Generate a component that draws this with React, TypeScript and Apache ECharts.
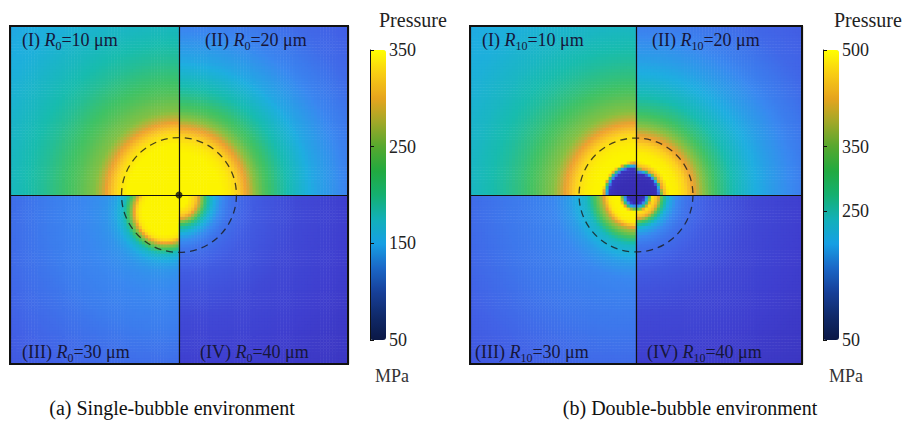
import React, { useEffect, useRef } from 'react';
import * as echarts from 'echarts';

// ---------- data ----------
// radial distance from a quadrant's field centre, as a fraction of the half-width of a panel
const RADII = [0, 0.05, 0.1, 0.13, 0.16, 0.2, 0.25, 0.3, 0.35, 0.4, 0.45, 0.5, 0.6, 0.7, 0.8, 1.0, 1.2, 1.5];

// pressure (MPa) along RADII, single-bubble environment, quadrants I..IV
const SINGLE_I = [350, 350, 350, 350, 350, 350, 350, 350, 335, 308, 278, 256, 238, 224, 210, 190, 174, 161];
const SINGLE_II = [350, 350, 350, 350, 350, 350, 350, 341, 320, 290, 260, 238, 210, 186, 164, 136, 117, 102];
const SINGLE_III = [350, 350, 350, 350, 338, 258, 188, 162, 150, 145, 142, 139, 135, 131, 125, 115, 105, 95];
const SINGLE_IV = [350, 350, 314, 266, 218, 176, 143, 125, 116, 110, 104, 101, 95, 89, 86, 80, 74, 68];
// field centres (fractions of half-width; x right, y up)
const SINGLE_CENTRES = [[0, 0], [0, 0], [-0.08, -0.1], [0, -0.02]];

// pressure (MPa) along RADII, double-bubble environment, quadrants I..IV
const DOUBLE_I = [64, 64, 64, 68, 77, 500, 500, 491, 469, 430, 390, 360, 330, 305, 285, 256, 236, 221];
const DOUBLE_II = [64, 64, 64, 68, 410, 500, 491, 455, 410, 368, 334, 308, 268, 236, 212, 174, 147, 128];
const DOUBLE_III = [64, 64, 500, 500, 487, 387, 320, 255, 234, 210, 196, 184, 176, 170, 165, 151, 137, 122];
const DOUBLE_IV = [64, 64, 477, 432, 320, 230, 185, 162, 149, 140, 131, 126, 117, 108, 104, 95, 86, 77];
const DOUBLE_CENTRES = [[0, 0], [0, 0], [0, 0], [0, 0]];

const SINGLE_RANGE = [50, 350];
const DOUBLE_RANGE = [50, 500];
const SINGLE_TICKS = [50, 150, 250, 350];
const DOUBLE_TICKS = [50, 250, 350, 500];

const DASH_RADIUS = 0.34; // dashed circle radius, fraction of half-width

const SINGLE_LABELS = [
  ['I', '0', '10'],
  ['II', '0', '20'],
  ['III', '0', '30'],
  ['IV', '0', '40'],
];
const DOUBLE_LABELS = [
  ['I', '10', '10'],
  ['II', '10', '20'],
  ['III', '10', '30'],
  ['IV', '10', '40'],
];
const CAPTIONS = ['(a) Single-bubble environment', '(b) Double-bubble environment'];

// ---------- styles ----------
const SERIF = '"Liberation Serif", "DejaVu Serif", serif';
const MAP_COLORS = ['#3527a8', '#3f3fcf', '#4262e6', '#3a88f0', '#1eaee0', '#18bcae', '#40c264', '#8cc040', '#eea030', '#fcd020', '#fcf400'];
const BAR_COLORS = ['#0b1846', '#102a6a', '#17409a', '#1a68c8', '#16a0e4', '#12b0b8', '#14b070', '#22aa40', '#56a82e', '#a0a828', '#e6a41e', '#f8cc14', '#ffff00'];
const GRID_N = 110;

const PANELS = [
  { left: 10, top: 26, width: 338, height: 338, barLeft: 370, captionX: 172, pressureX: 379, mpaX: 375, labelDx: [12, 26, 12, 21] },
  { left: 470, top: 26, width: 332, height: 338, barLeft: 823, captionX: 690, pressureX: 834, mpaX: 829, labelDx: [12, 16, 5, 11] },
];
const BAR_TOP = 50;
const BAR_H = 290;
const BAR_W = 16;

function profileAt(profile: number[], r: number): number {
  if (r <= RADII[0]) return profile[0];
  for (let k = 1; k < RADII.length; k++) {
    if (r <= RADII[k]) {
      const f = (r - RADII[k - 1]) / (RADII[k] - RADII[k - 1]);
      return profile[k - 1] + f * (profile[k] - profile[k - 1]);
    }
  }
  return profile[profile.length - 1];
}

function buildField(profiles: number[][], centres: number[][]) {
  const out: number[][] = [];
  for (let j = 0; j < GRID_N; j++) {
    const y = -1 + ((j + 0.5) * 2) / GRID_N;
    for (let i = 0; i < GRID_N; i++) {
      const x = -1 + ((i + 0.5) * 2) / GRID_N;
      const q = y >= 0 ? (x < 0 ? 0 : 1) : x < 0 ? 2 : 3;
      const dx = x - centres[q][0];
      const dy = y - centres[q][1];
      out.push([i, j, profileAt(profiles[q], Math.sqrt(dx * dx + dy * dy))]);
    }
  }
  return out;
}

function labelText(l: string[]) {
  return `{n|(${l[0]}) }{i|R}{s|${l[1]}}{n|=${l[2]} μm}`;
}

const LABEL_COLOR = '#16163a';
const LABEL_SIZE = 18;
const rich = {
  n: { fontFamily: SERIF, fontSize: LABEL_SIZE, fill: LABEL_COLOR, lineHeight: 23, verticalAlign: 'middle' },
  i: { fontFamily: SERIF, fontSize: LABEL_SIZE, fontStyle: 'italic', fill: LABEL_COLOR, lineHeight: 23, verticalAlign: 'middle' },
  s: { fontFamily: SERIF, fontSize: 12, fill: LABEL_COLOR, lineHeight: 23, verticalAlign: 'bottom' },
};

function buildOption() {
  const idx = Array.from({ length: GRID_N }, (_, k) => String(k));
  const fields = [
    buildField([SINGLE_I, SINGLE_II, SINGLE_III, SINGLE_IV], SINGLE_CENTRES),
    buildField([DOUBLE_I, DOUBLE_II, DOUBLE_III, DOUBLE_IV], DOUBLE_CENTRES),
  ];
  const ranges = [SINGLE_RANGE, DOUBLE_RANGE];
  const ticks = [SINGLE_TICKS, DOUBLE_TICKS];
  const labels = [SINGLE_LABELS, DOUBLE_LABELS];

  const grid: any[] = [];
  const xAxis: any[] = [];
  const yAxis: any[] = [];
  const series: any[] = [];
  const visualMap: any[] = [];
  const graphic: any[] = [];

  PANELS.forEach((p) => {
    grid.push({ left: p.left, top: p.top, width: p.width, height: p.height, containLabel: false });
  });
  PANELS.forEach((p) => {
    grid.push({ left: p.barLeft, top: BAR_TOP, width: BAR_W, height: BAR_H, containLabel: false });
  });

  // category axes for heatmaps (0,1)
  [0, 1].forEach((g) => {
    xAxis.push({ gridIndex: g, type: 'category', data: idx, show: false });
    yAxis.push({ gridIndex: g, type: 'category', data: idx, show: false });
  });
  // overlay value axes (2,3) – quadrant dividers
  [0, 1].forEach((g) => {
    const ax = {
      gridIndex: g,
      type: 'value',
      min: -1,
      max: 1,
      interval: 1,
      z: 5,
      axisLine: { show: false },
      axisTick: { show: false },
      axisLabel: { show: false },
      splitLine: { show: true, lineStyle: { color: '#111', width: 1.2 } },
    };
    xAxis.push({ ...ax });
    yAxis.push({ ...ax });
  });
  // colour-bar axes (4,5)
  [0, 1].forEach((k) => {
    xAxis.push({ gridIndex: 2 + k, type: 'value', min: 0, max: 1, show: false });
    yAxis.push({
      gridIndex: 2 + k,
      type: 'value',
      position: 'right',
      min: ranges[k][0],
      max: ranges[k][1],
      z: 5,
      axisLine: { show: true, lineStyle: { color: '#111', width: 1 } },
      axisTick: { show: true, inside: false, length: 4, lineStyle: { color: '#111' }, customValues: ticks[k] },
      axisLabel: { show: true, fontFamily: SERIF, fontSize: 18, color: '#222', margin: 3, customValues: ticks[k] },
      splitLine: { show: false },
    });
  });

  [0, 1].forEach((k) => {
    series.push({
      type: 'heatmap',
      xAxisIndex: k,
      yAxisIndex: k,
      data: fields[k],
      progressive: 0,
      silent: true,
      emphasis: { disabled: true },
    });
    visualMap.push({
      type: 'continuous',
      show: false,
      seriesIndex: k,
      min: ranges[k][0],
      max: ranges[k][1],
      inRange: { color: MAP_COLORS },
    });
  });
  [0, 1].forEach((k) => {
    series.push({ type: 'scatter', xAxisIndex: 4 + k, yAxisIndex: 4 + k, data: [], silent: true });
  });
  [0, 1].forEach((k) => {
    visualMap.push({
      type: 'continuous',
      show: true,
      seriesIndex: 2 + k,
      min: ranges[k][0],
      max: ranges[k][1],
      left: PANELS[k].barLeft,
      top: BAR_TOP,
      itemWidth: BAR_W,
      itemHeight: BAR_H,
      padding: 0,
      calculable: false,
      hoverLink: false,
      text: ['', ''],
      inRange: { color: BAR_COLORS },
    });
  });

  // dashed circles and centre dot
  PANELS.forEach((p, k) => {
    series.push({
      type: 'scatter',
      xAxisIndex: 2 + k,
      yAxisIndex: 2 + k,
      data: [[0, 0]],
      symbol: 'circle',
      symbolSize: (DASH_RADIUS * (p.width + p.height)) / 2,
      silent: true,
      z: 6,
      itemStyle: { color: 'rgba(0,0,0,0)', borderColor: '#1a1a1a', borderWidth: 1.3, borderType: [7, 5] },
    });
    if (k === 0) {
      series.push({
        type: 'scatter',
        xAxisIndex: 2,
        yAxisIndex: 2,
        data: [[0, 0]],
        symbol: 'circle',
        symbolSize: 7,
        silent: true,
        z: 7,
        itemStyle: { color: '#111' },
      });
    }
  });

  PANELS.forEach((p, k) => {
    graphic.push({
      type: 'rect',
      z: 100,
      silent: true,
      shape: { x: p.left, y: p.top, width: p.width, height: p.height },
      style: { fill: 'none', stroke: '#111', lineWidth: 2 },
    });
    const cx = p.left + p.width / 2;
    const pos = [
      [p.left + p.labelDx[0], p.top + 14],
      [cx + p.labelDx[1], p.top + 14],
      [p.left + p.labelDx[2], p.top + p.height - 12],
      [cx + p.labelDx[3], p.top + p.height - 12],
    ];
    labels[k].forEach((l, q) => {
      graphic.push({
        type: 'text',
        z: 101,
        silent: true,
        x: pos[q][0],
        y: pos[q][1],
        style: { text: labelText(l), rich, fontFamily: SERIF, fontSize: LABEL_SIZE, fill: LABEL_COLOR, verticalAlign: 'middle', align: 'left' },
      });
    });
    graphic.push({
      type: 'text',
      z: 101,
      silent: true,
      x: p.pressureX,
      y: 20,
      style: { text: 'Pressure', fontFamily: SERIF, fontSize: 20, fill: '#222', verticalAlign: 'middle', align: 'left' },
    });
    graphic.push({
      type: 'text',
      z: 101,
      silent: true,
      x: p.mpaX,
      y: 376,
      style: { text: 'MPa', fontFamily: SERIF, fontSize: 18, fill: '#333', verticalAlign: 'middle', align: 'left' },
    });
    graphic.push({
      type: 'text',
      z: 101,
      silent: true,
      x: p.captionX,
      y: 408,
      style: { text: CAPTIONS[k], fontFamily: SERIF, fontSize: 20, fill: '#111', verticalAlign: 'middle', align: 'center' },
    });
  });

  return {
    animation: false,
    backgroundColor: '#ffffff',
    grid,
    xAxis,
    yAxis,
    visualMap,
    series,
    graphic,
  };
}

export default function App() {
  const ref = useRef<HTMLDivElement>(null);
  useEffect(() => {
    const chart = echarts.init(ref.current!, null, { renderer: 'svg' });
    chart.setOption(buildOption() as any);
    return () => chart.dispose();
  }, []);
  return (
    <div
      ref={ref}
      style={{ position: 'fixed', left: 0, top: 0, width: 906, height: 422, background: '#fff' }}
    />
  );
}
